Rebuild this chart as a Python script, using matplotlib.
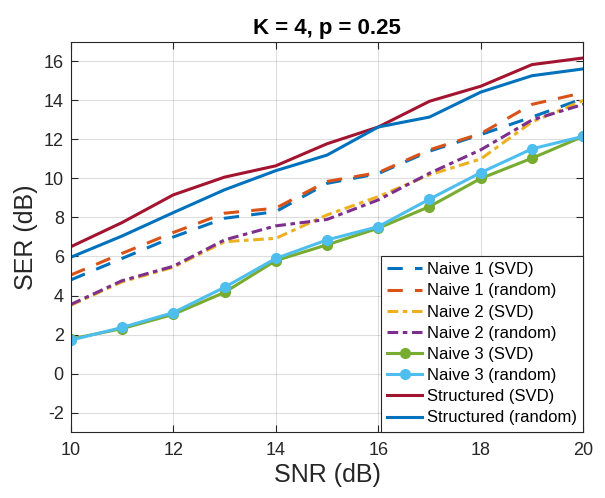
import numpy as np
import matplotlib.pyplot as plt

plt.rcParams['font.family'] = ['Liberation Sans', 'DejaVu Sans']
plt.rcParams['axes.unicode_minus'] = False

snr = [10, 11, 12, 13, 14, 15, 16, 17, 18, 19, 20]

naive1_svd = [4.8, 5.9, 7.0, 7.96, 8.3, 9.75, 10.25, 11.4, 12.25, 13.15, 14.1]
naive1_rand = [5.05, 6.16, 7.23, 8.22, 8.48, 9.85, 10.3, 11.47, 12.3, 13.8, 14.4]
naive2_svd = [3.5, 4.7, 5.45, 6.76, 6.93, 8.13, 9.07, 10.19, 11.0, 12.9, 14.0]
naive2_rand = [3.54, 4.76, 5.5, 6.85, 7.57, 7.9, 8.9, 10.27, 11.47, 13.0, 13.8]
naive3_svd = [1.77, 2.3, 3.03, 4.16, 5.79, 6.6, 7.45, 8.56, 10.0, 11.04, 12.16]
naive3_rand = [1.71, 2.36, 3.12, 4.42, 5.9, 6.85, 7.53, 8.94, 10.3, 11.52, 12.16]
struct_svd = [6.5, 7.74, 9.16, 10.07, 10.65, 11.78, 12.64, 13.96, 14.73, 15.84, 16.18]
struct_rand = [5.96, 7.05, 8.25, 9.42, 10.4, 11.2, 12.64, 13.15, 14.43, 15.27, 15.62]

c_blue = '#0072BD'
c_orange = '#D95319'
c_yellow = '#EDB120'
c_purple = '#7E2F8E'
c_green = '#77AC30'
c_cyan = '#4DBEEE'
c_red = '#A2142F'

fig = plt.figure(figsize=(6.05, 4.98), dpi=100)
ax = fig.add_axes([0.117, 0.1325, 0.847, 0.7832])

lw = 2.2
dash = (0, (5, 4))
dashdot = (0, (3.5, 1.5, 1.5, 1.5))
ax.plot(snr, naive1_svd, color=c_blue, lw=lw, ls=dash, label='Naive 1 (SVD)')
ax.plot(snr, naive1_rand, color=c_orange, lw=lw, ls=dash, label='Naive 1 (random)')
ax.plot(snr, naive2_svd, color=c_yellow, lw=lw, ls=dashdot, label='Naive 2 (SVD)')
ax.plot(snr, naive2_rand, color=c_purple, lw=lw, ls=dashdot, label='Naive 2 (random)')
ax.plot(snr, naive3_svd, color=c_green, lw=lw, marker='o', ms=7, label='Naive 3 (SVD)')
ax.plot(snr, naive3_rand, color=c_cyan, lw=lw, marker='o', ms=7, label='Naive 3 (random)')
ax.plot(snr, struct_svd, color=c_red, lw=lw, label='Structured (SVD)')
ax.plot(snr, struct_rand, color=c_blue, lw=lw, label='Structured (random)')

ax.set_xlim(10, 20)
ax.set_ylim(-3, 17)
ax.set_xticks(np.arange(10, 21, 2))
ax.set_yticks(np.arange(-2, 17, 2))
ax.grid(True, color='#262626', alpha=0.15, lw=0.8)
ax.tick_params(direction='in', top=True, right=True, labelsize=13, colors='#262626', length=5)
ax.tick_params(axis='x', pad=7)
ax.tick_params(axis='y', pad=5)
for s in ax.spines.values():
    s.set_color('#262626')
    s.set_linewidth(0.8)

ax.set_xlabel('SNR (dB)', fontsize=18, color='#262626', labelpad=3)
ax.set_ylabel('SER (dB)', fontsize=18, color='#262626', labelpad=4)
ax.set_title('K = 4, p = 0.25', fontsize=16, fontweight='bold', pad=6)

leg = ax.legend(loc='lower right', fontsize=12, frameon=True, fancybox=False,
                framealpha=1, edgecolor='#262626', handlelength=2.1,
                borderaxespad=0.0, labelspacing=0.37, handletextpad=0.25,
                borderpad=0.4)
leg.get_frame().set_linewidth(0.8)

fig.savefig('out.png', dpi=100)
